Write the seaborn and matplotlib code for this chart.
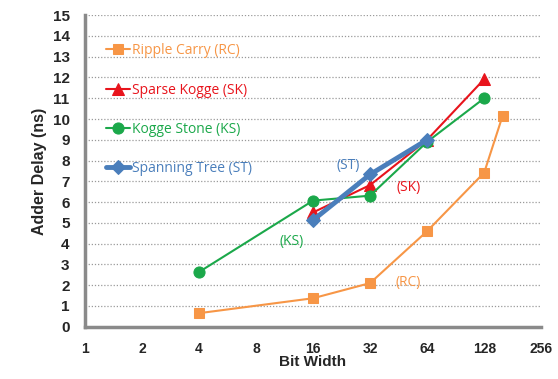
import numpy as np
import pandas as pd
import matplotlib
matplotlib.use("Agg")
import matplotlib.pyplot as plt
import seaborn as sns
from matplotlib.ticker import FixedLocator, NullLocator

# datos
rc_bits = [4, 16, 32, 64, 128, 160]
rc_delay = [0.65, 1.37, 2.1, 4.6, 7.42, 10.15]
sk_bits = [16, 32, 64, 128]
sk_delay = [5.5, 6.82, 9.0, 11.92]
ks_bits = [4, 16, 32, 64, 128]
ks_delay = [2.63, 6.07, 6.31, 8.9, 11.0]
st_bits = [16, 32, 64]
st_delay = [5.13, 7.33, 9.0]

x_ticks = [1, 2, 4, 8, 16, 32, 64, 128, 256]

sns.set_style("white")
plt.rcParams['font.family'] = ['Open Sans', 'DejaVu Sans']
bold_font = {"family": "Liberation Sans", "weight": "bold"}

fig = plt.figure(figsize=(5.58, 3.79), dpi=100)
ax = fig.add_axes([0.152, 0.138, 0.818, 0.822])

series = [
    ("Ripple Carry (RC)", rc_bits, rc_delay, "#F79646", "s", 1.5, 7),
    ("Sparse Kogge (SK)", sk_bits, sk_delay, "#E8141C", "^", 1.5, 8),
    ("Kogge Stone (KS)", ks_bits, ks_delay, "#1BA84A", "o", 1.5, 8),
    ("Spanning Tree (ST)", st_bits, st_delay, "#4A7EBB", "D", 3.5, 7),
]

for name, xs, ys, col, mk, lw, ms in series:
    df = pd.DataFrame({"bits": xs, "delay": ys})
    sns.lineplot(data=df, x="bits", y="delay", ax=ax, color=col, marker=mk,
                 markersize=ms, markeredgecolor=col, linewidth=lw, label=name)

ax.set_xscale("log", base=2)
ax.set_xlim(1, 256)
ax.set_ylim(0, 15)
ax.xaxis.set_major_locator(FixedLocator(x_ticks))
ax.xaxis.set_minor_locator(NullLocator())
ax.set_xticklabels([str(t) for t in x_ticks], fontdict=bold_font, fontsize=10)
ax.set_yticks(range(0, 16))
ax.set_yticklabels([str(t) for t in range(0, 16)], fontdict=bold_font, fontsize=11)
ax.tick_params(axis="both", length=3, color="#909090", direction="out")
ax.tick_params(axis="y", pad=8)
ax.tick_params(axis="x", pad=8)

ax.grid(axis="y", linestyle=(0, (1, 1.5)), color="#9a9a9a", linewidth=0.9)
ax.set_axisbelow(True)
for s in ["top", "right"]:
    ax.spines[s].set_visible(False)
for s in ["left", "bottom"]:
    ax.spines[s].set_color("#8a8a8a")
    ax.spines[s].set_linewidth(2.5)

ax.set_xlabel("Bit Width", fontdict=bold_font, fontsize=11, labelpad=-1)
ax.set_ylabel("Adder Delay (ns)", fontdict=bold_font, fontsize=11.5, labelpad=4)

leg = ax.legend(loc="upper left", bbox_to_anchor=(0.02, 0.95), frameon=False,
                fontsize=10, labelspacing=1.75, handlelength=1.7, handletextpad=0.15)
for txt, (_, _, _, col, _, _, _) in zip(leg.get_texts(), series):
    txt.set_color(col)

ax.text(21.3, 7.6, "(ST)", color="#4A7EBB", fontsize=10)
ax.text(44, 6.55, "(SK)", color="#E8141C", fontsize=10)
ax.text(10.6, 3.95, "(KS)", color="#1BA84A", fontsize=10)
ax.text(43.5, 1.95, "(RC)", color="#F79646", fontsize=10)

fig.savefig("out.png", dpi=100)
